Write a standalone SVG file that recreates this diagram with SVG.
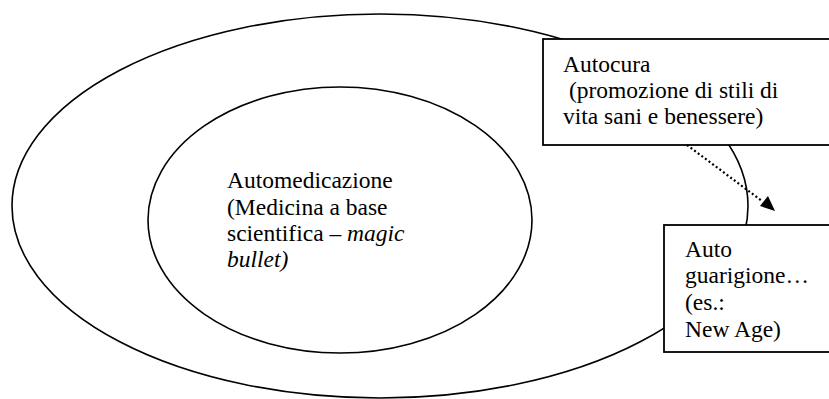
<svg xmlns="http://www.w3.org/2000/svg" width="829" height="399" viewBox="0 0 829 399">
<style>
.shape{fill:none;stroke:#000;stroke-width:1.6}
.box{fill:#fff;stroke:#000;stroke-width:1.8}
.t{font-family:"Liberation Serif","Times New Roman",serif;font-size:23.5px;fill:#000}
.it{font-style:italic}
.dot{fill:none;stroke:#000;stroke-width:2.2;stroke-dasharray:2 2.5}
</style>
<defs>
<marker id="ah" markerWidth="10" markerHeight="10" refX="9" refY="5" orient="auto" markerUnits="userSpaceOnUse" viewBox="0 0 10 10">
<path d="M0,0 L10,5 L0,10 z" fill="#000"/>
</marker>
</defs>
<rect width="829" height="399" fill="#fff"/>
<g id="outer">
<ellipse class="shape" cx="380" cy="206" rx="368" ry="192"/>
</g>
<g id="automedicazione">
<ellipse class="shape" cx="340" cy="220" rx="192" ry="133"/>
<text class="t" x="227" y="188">Automedicazione</text>
<text class="t" x="227" y="215">(Medicina a base</text>
<text class="t" x="227" y="241">scientifica – <tspan class="it">magic</tspan></text>
<text class="t it" x="227" y="267">bullet)</text>
</g>
<g id="autocura">
<rect class="box" x="543" y="39" width="290" height="106"/>
<text class="t" x="563" y="72">Autocura</text>
<text class="t" x="563" y="98" xml:space="preserve"> (promozione di stili di</text>
<text class="t" x="563" y="124">vita sani e benessere)</text>
</g>
<g id="autoguarigione">
<rect class="box" x="664" y="225" width="170" height="127"/>
<text class="t" x="685" y="257">Auto</text>
<text class="t" x="685" y="283">guarigione…</text>
<text class="t" x="685" y="310">(es.:</text>
<text class="t" x="685" y="337">New Age)</text>
</g>
<g id="connectors">
<line class="dot" x1="687" y1="145" x2="762" y2="201"/>
<path d="M775,211 L760,206 L768,196 z" fill="#000"/>
</g>
</svg>
